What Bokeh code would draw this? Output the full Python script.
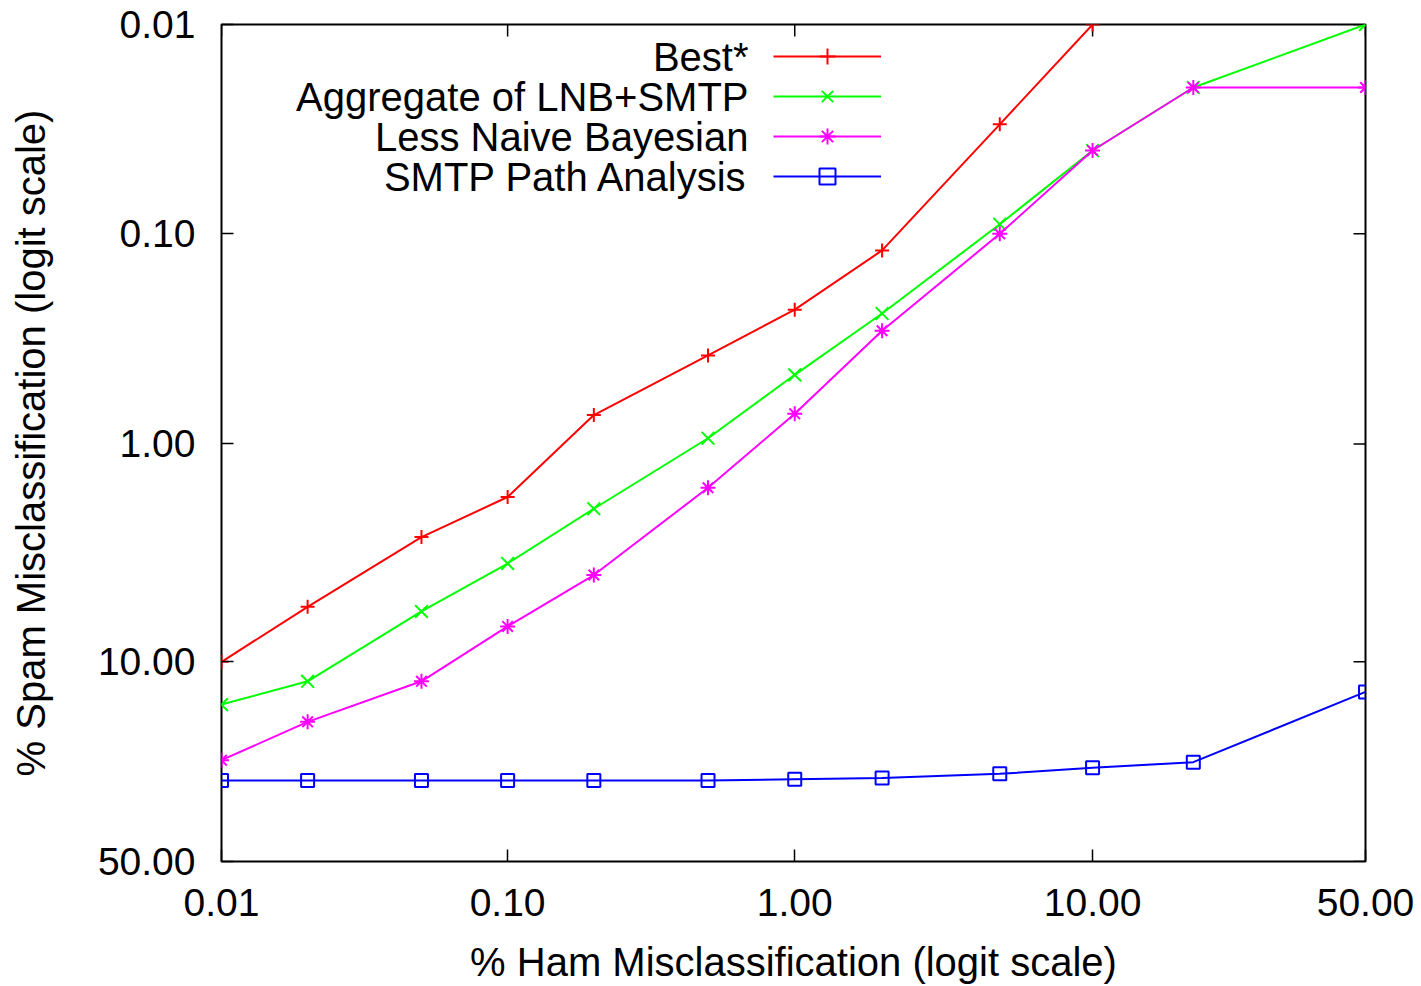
import numpy as np
from bokeh.plotting import figure
from bokeh.models import (Range1d, FixedTicker, CustomJSTickFormatter,
                          Legend, LegendItem, Label)
from bokeh.embed import file_html
from bokeh.resources import INLINE

# ---- data (percent values) ----
ham_pct = [0.01, 0.02, 0.05, 0.1, 0.2, 0.5, 1, 2, 5, 10, 20, 50]
best_spam = [10.0, 5.72, 2.74, 1.78, 0.73, 0.38, 0.23, 0.12, 0.030, 0.010]
agg_spam = [15.1, 12.1, 6.0, 3.63, 2.02, 0.94, 0.47, 0.24, 0.090, 0.040, 0.020, 0.010]
lnb_spam = [24.7, 17.7, 12.1, 7.0, 4.1, 1.61, 0.72, 0.29, 0.10, 0.040, 0.020, 0.020]
smtp_spam = [29.1, 29.1, 29.1, 29.1, 29.1, 29.1, 28.8, 28.5, 27.6, 26.3, 25.1, 13.4]
tick_pct = [0.01, 0.1, 1, 10, 50]
series_names = ["Best*", "Aggregate of LNB+SMTP", "Less Naive Bayesian", "SMTP Path Analysis"]
series_values = [best_spam, agg_spam, lnb_spam, smtp_spam]
colors = ["#ff0000", "#00ff00", "#ff00ff", "#0000ff"]
markers = ["cross", "x", "asterisk", "square"]
marker_sizes = [14, 18, 15, 13]

FONT = "Liberation Sans"
FS_TICK = "39px"
FS = "40px"


def logit(pct):
    p = np.asarray(pct, dtype=float) / 100.0
    return np.log(p / (1.0 - p))


lo = float(logit(0.01))
hi = float(logit(50))

p = figure(width=1421, height=986, output_backend="svg", toolbar_location=None,
           x_range=Range1d(lo, hi), y_range=Range1d(hi, lo),
           min_border_left=221, min_border_right=56, min_border_top=24,
           min_border_bottom=123)
p.grid.visible = False
p.outline_line_color = "black"
p.outline_line_width = 2
p.background_fill_color = "white"
p.border_fill_color = "white"

fmt = CustomJSTickFormatter(code="return (100/(1+Math.exp(-tick))).toFixed(2);")
ticks = [float(t) for t in logit(tick_pct)]

for ax in (p.xaxis[0], p.yaxis[0]):
    ax.ticker = FixedTicker(ticks=ticks)
    ax.formatter = fmt
    ax.major_tick_in = 12
    ax.major_tick_out = 0
    ax.major_tick_line_width = 1.5
    ax.major_tick_line_color = "black"
    ax.minor_tick_line_color = None
    ax.axis_line_color = None
    ax.major_label_text_font = FONT
    ax.major_label_text_font_size = FS_TICK
    ax.major_label_text_color = "black"
    ax.axis_label_text_font = FONT
    ax.axis_label_text_font_size = FS
    ax.axis_label_text_font_style = "normal"
    ax.axis_label_text_color = "black"

p.xaxis[0].axis_label = "% Ham Misclassification (logit scale)"
p.xaxis[0].major_label_standoff = 27
p.xaxis[0].axis_label_standoff = 21
p.yaxis[0].axis_label = "% Spam Misclassification (logit scale)"
p.yaxis[0].major_label_standoff = 26
p.yaxis[0].axis_label_standoff = 42

# mirrored tick marks on the top and right edges (gnuplot style)
n = len(ticks)
p.ray(x=ticks, y=[lo] * n, length=12, length_units="screen", angle=-np.pi / 2,
      line_color="black", line_width=1.5)
p.ray(x=[hi] * n, y=ticks, length=12, length_units="screen", angle=np.pi,
      line_color="black", line_width=1.5)

items = []
for name, vals, c, mk, ms in zip(series_names, series_values, colors, markers, marker_sizes):
    xs = logit(ham_pct[:len(vals)])
    ys = logit(vals)
    lr = p.line(xs, ys, line_color=c, line_width=2)
    sr = p.scatter(xs, ys, marker=mk, size=ms, line_color=c, fill_color=None, line_width=2)
    items.append(LegendItem(label="", renderers=[lr, sr]))

# legend key samples (gnuplot puts the sample to the right of the text)
legend = Legend(items=items, location=(552, 665), glyph_width=108, glyph_height=40,
                label_text_font_size="1px", label_height=1, label_width=0,
                label_standoff=0, spacing=0, padding=0, margin=0,
                border_line_color=None, background_fill_alpha=0)
p.add_layout(legend)

# legend texts, right aligned, left of the samples
for i, name in enumerate(series_names):
    p.add_layout(Label(x=527, y=805 - 40 * i, x_units="screen", y_units="screen",
                       text=name, text_align="right", text_baseline="middle",
                       text_font=FONT, text_font_size=FS, text_color="black"))

open("out.html", "w").write(file_html(p, INLINE))
